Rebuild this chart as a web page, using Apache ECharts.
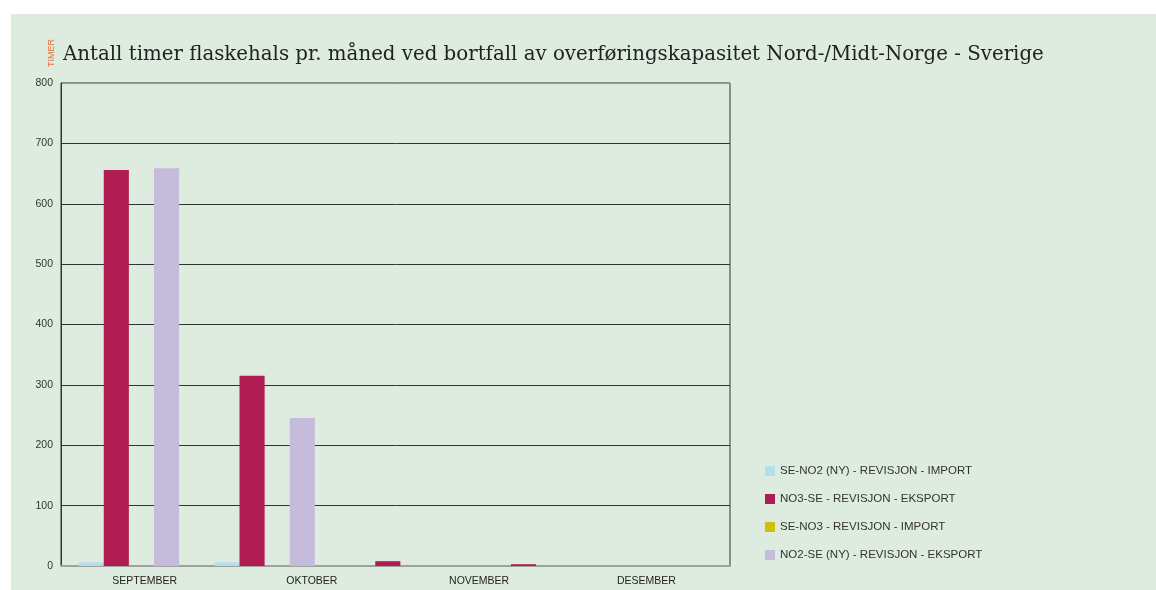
<!DOCTYPE html>
<html>
<head>
<meta charset="utf-8">
<script src="https://cdn.jsdelivr.net/npm/echarts@6/dist/echarts.min.js"></script>
<style>
body { margin: 0; background: #fff; }
#panel { position: absolute; left: 11px; top: 14px; width: 1145px; height: 576px; background: #ddecde; }
#chart { position: absolute; left: 0; top: 0; width: 1156px; height: 590px; }
</style>
</head>
<body>
<div id="panel"></div>
<div id="chart"></div>
<script>
// data
const months = ['SEPTEMBER', 'OKTOBER', 'NOVEMBER', 'DESEMBER']
const seriesNames = [
    'SE-NO2 (NY) - REVISJON - IMPORT',
    'NO3-SE - REVISJON - EKSPORT',
    'SE-NO3 - REVISJON - IMPORT',
    'NO2-SE (NY) - REVISJON - EKSPORT'
]
const seNo2Import = [6, 6, 0, 0]
const no3SeEksport = [656, 315, 8, 3]
const seNo3Import = [0, 0, 0, 0]
const no2SeEksport = [659, 245, 0, 0]
const colors = ['#b3dfea', '#b01d52', '#cfc10b', '#c4bcda']

let dom = echarts.init(document.getElementById('chart'))
let lineColors = ['#9a9a9a', '#333', '#333', '#333', '#333', '#333', '#333', '#333', '#8f9a90']

let option = {
    animation: false,
    textStyle: { fontFamily: 'Liberation Sans, Arial, sans-serif' },
    graphic: [
        {
            type: 'text', left: 63, top: 45,
            style: {
                text: 'Antall timer flaskehals pr. måned ved bortfall av overføringskapasitet Nord-/Midt-Norge - Sverige',
                font: '19.8px "DejaVu Serif", serif', fill: '#222'
            }
        },
        {
            type: 'text', x: 47, y: 67, rotation: Math.PI / 2,
            style: { text: 'TIMER', font: '9px "Liberation Sans", Arial', fill: '#e8703a' }
        }
    ],
    legend: {
        orient: 'vertical',
        left: 760,
        top: 460,
        itemWidth: 10,
        itemHeight: 10,
        itemGap: 16,
        icon: 'rect',
        textStyle: { fontSize: 11.5, color: '#333' },
        data: seriesNames
    },
    grid: [
        { left: 61, right: 426, top: 83, bottom: 24, show: true, borderColor: '#333', borderWidth: 1 },
        { left: 61, width: 543, top: 83, bottom: 24 }
    ],
    xAxis: [
        {
            type: 'category', gridIndex: 0, data: months,
            axisLine: { lineStyle: { color: '#a0a0a0', width: 2 } },
            axisTick: { show: false },
            axisLabel: { fontSize: 10.5, color: '#222', margin: 10 }
        },
        {
            type: 'category', gridIndex: 1, data: months, show: false
        }
    ],
    yAxis: [
        {
            type: 'value', gridIndex: 0, min: 0, max: 800, interval: 100,
            axisLine: { show: true, lineStyle: { color: '#333' } },
            axisTick: { show: false },
            axisLabel: { fontSize: 10.5, color: '#333', margin: 8 },
            splitLine: { lineStyle: { color: lineColors, width: 1 } }
        },
        {
            type: 'value', gridIndex: 1, min: 0, max: 800, show: false, splitLine: { show: false }
        }
    ],
    series: [seNo2Import, no3SeEksport, seNo3Import, no2SeEksport].map((d, i) => ({
        name: seriesNames[i],
        type: 'bar',
        xAxisIndex: 1,
        yAxisIndex: 1,
        data: d,
        barGap: '0%',
        barCategoryGap: '26%',
        itemStyle: { color: colors[i] }
    }))
}
dom.setOption(option)
</script>
</body>
</html>
